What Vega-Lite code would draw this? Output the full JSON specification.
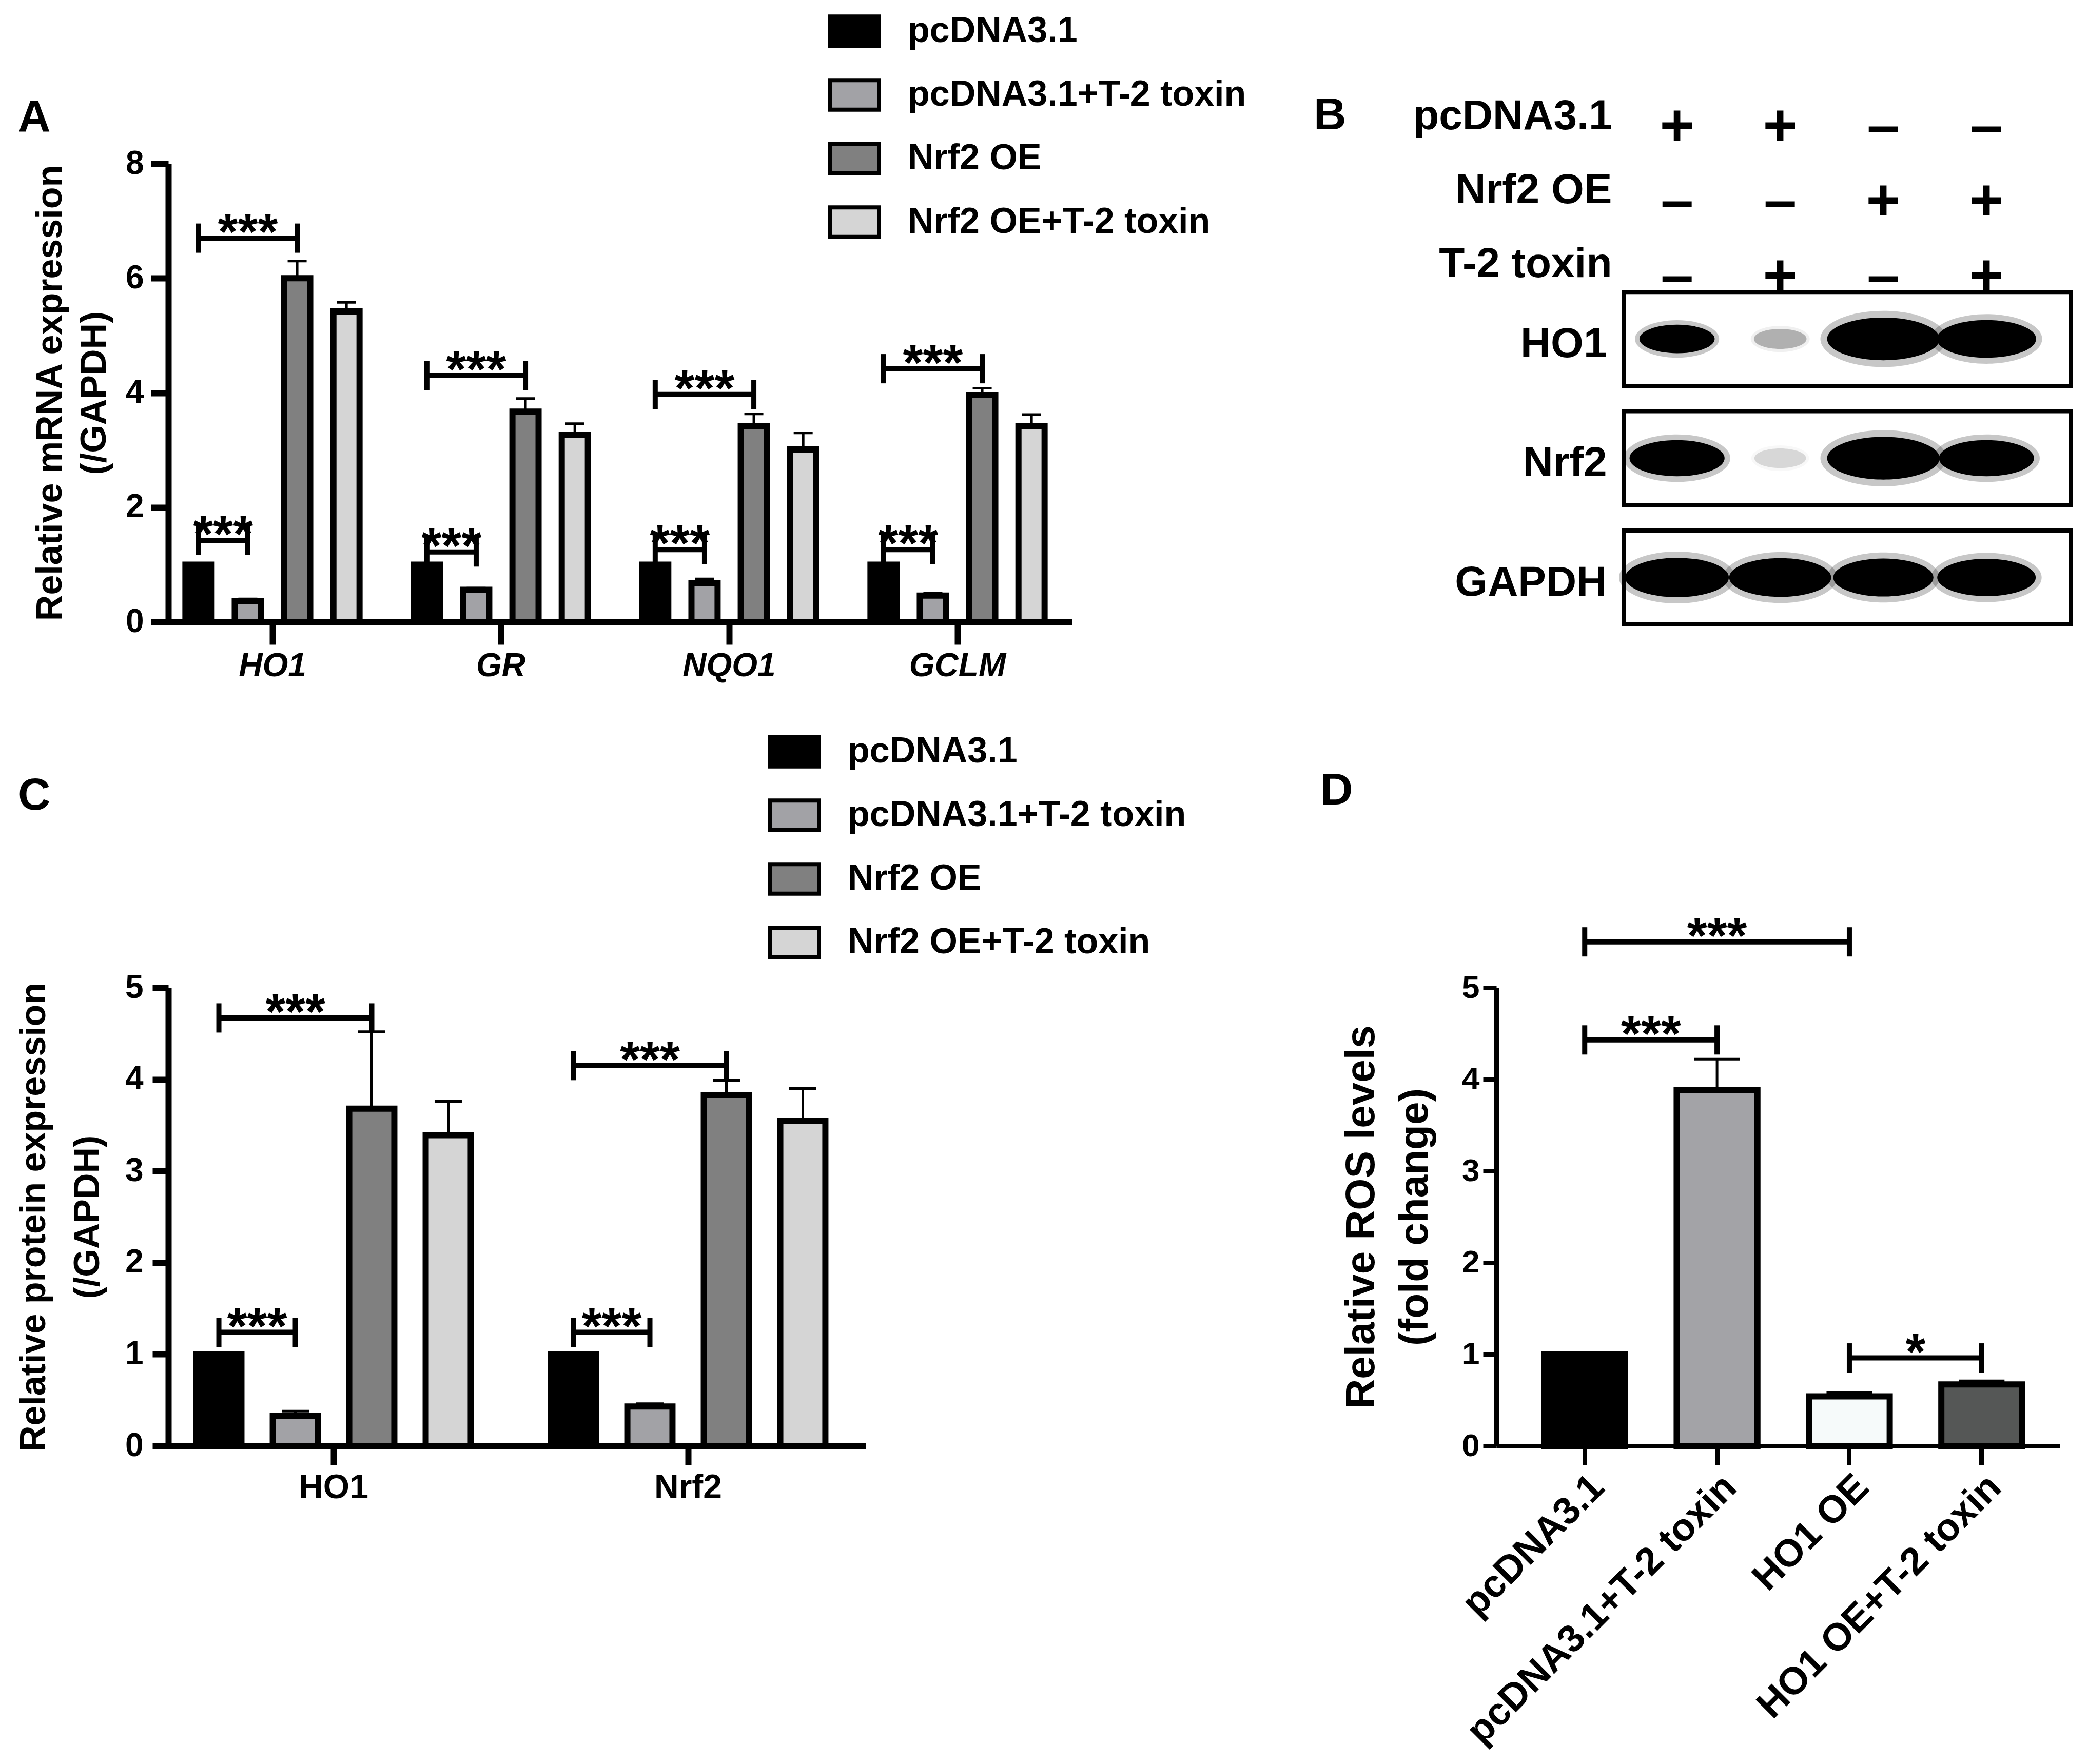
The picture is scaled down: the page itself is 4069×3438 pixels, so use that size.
{
 "$schema": "https://vega.github.io/schema/vega-lite/v6.json",
 "background": "white",
 "padding": {"left": 31, "top": 9, "right": 10, "bottom": 10},
 "columns": 2,
 "align": {"row": "each", "column": "none"},
 "bounds": "flush",
 "spacing": {"row": 708, "column": 1111},
 "resolve": {"scale": {"color": "independent", "xOffset": "independent", "size": "independent", "opacity": "independent", "fillOpacity": "independent"}},
 "datasets": {
  "mrna": [
   {"gene":"HO1","group":"pcDNA3.1","value":1.0},
   {"gene":"HO1","group":"pcDNA3.1+T-2 toxin","value":0.36,"hi":0.40},
   {"gene":"HO1","group":"Nrf2 OE","value":6.0,"hi":6.3},
   {"gene":"HO1","group":"Nrf2 OE+T-2 toxin","value":5.42,"hi":5.58},
   {"gene":"GR","group":"pcDNA3.1","value":1.0},
   {"gene":"GR","group":"pcDNA3.1+T-2 toxin","value":0.56,"hi":0.59},
   {"gene":"GR","group":"Nrf2 OE","value":3.67,"hi":3.9},
   {"gene":"GR","group":"Nrf2 OE+T-2 toxin","value":3.26,"hi":3.46},
   {"gene":"NQO1","group":"pcDNA3.1","value":1.0},
   {"gene":"NQO1","group":"pcDNA3.1+T-2 toxin","value":0.68,"hi":0.75},
   {"gene":"NQO1","group":"Nrf2 OE","value":3.42,"hi":3.63},
   {"gene":"NQO1","group":"Nrf2 OE+T-2 toxin","value":3.01,"hi":3.3},
   {"gene":"GCLM","group":"pcDNA3.1","value":1.0},
   {"gene":"GCLM","group":"pcDNA3.1+T-2 toxin","value":0.46,"hi":0.5},
   {"gene":"GCLM","group":"Nrf2 OE","value":3.96,"hi":4.08},
   {"gene":"GCLM","group":"Nrf2 OE+T-2 toxin","value":3.42,"hi":3.62}
  ],
  "mrnaBracket": [
   {"gene":"HO1","id":"HO1a","group":"pcDNA3.1","y":6.7},
   {"gene":"HO1","id":"HO1a","group":"Nrf2 OE","y":6.7},
   {"gene":"HO1","id":"HO1b","group":"pcDNA3.1","y":1.42},
   {"gene":"HO1","id":"HO1b","group":"pcDNA3.1+T-2 toxin","y":1.42},
   {"gene":"GR","id":"GRa","group":"pcDNA3.1","y":4.3},
   {"gene":"GR","id":"GRa","group":"Nrf2 OE","y":4.3},
   {"gene":"GR","id":"GRb","group":"pcDNA3.1","y":1.22},
   {"gene":"GR","id":"GRb","group":"pcDNA3.1+T-2 toxin","y":1.22},
   {"gene":"NQO1","id":"NQa","group":"pcDNA3.1","y":3.97},
   {"gene":"NQO1","id":"NQa","group":"Nrf2 OE","y":3.97},
   {"gene":"NQO1","id":"NQb","group":"pcDNA3.1","y":1.26},
   {"gene":"NQO1","id":"NQb","group":"pcDNA3.1+T-2 toxin","y":1.26},
   {"gene":"GCLM","id":"GCa","group":"pcDNA3.1","y":4.42},
   {"gene":"GCLM","id":"GCa","group":"Nrf2 OE","y":4.42},
   {"gene":"GCLM","id":"GCb","group":"pcDNA3.1","y":1.26},
   {"gene":"GCLM","id":"GCb","group":"pcDNA3.1+T-2 toxin","y":1.26}
  ],
  "mrnaStars": [
   {"gene":"HO1","group":"pcDNA3.1+T-2 toxin","y":6.7,"kind":"long","label":"***"},
   {"gene":"HO1","group":"pcDNA3.1","y":1.42,"kind":"short","label":"***"},
   {"gene":"GR","group":"pcDNA3.1+T-2 toxin","y":4.3,"kind":"long","label":"***"},
   {"gene":"GR","group":"pcDNA3.1","y":1.22,"kind":"short","label":"***"},
   {"gene":"NQO1","group":"pcDNA3.1+T-2 toxin","y":3.97,"kind":"long","label":"***"},
   {"gene":"NQO1","group":"pcDNA3.1","y":1.26,"kind":"short","label":"***"},
   {"gene":"GCLM","group":"pcDNA3.1+T-2 toxin","y":4.42,"kind":"long","label":"***"},
   {"gene":"GCLM","group":"pcDNA3.1","y":1.26,"kind":"short","label":"***"}
  ],
  "protein": [
   {"gene":"HO1","group":"pcDNA3.1","value":1.0},
   {"gene":"HO1","group":"pcDNA3.1+T-2 toxin","value":0.33,"hi":0.38},
   {"gene":"HO1","group":"Nrf2 OE","value":3.68,"hi":4.52},
   {"gene":"HO1","group":"Nrf2 OE+T-2 toxin","value":3.39,"hi":3.76},
   {"gene":"Nrf2","group":"pcDNA3.1","value":1.0},
   {"gene":"Nrf2","group":"pcDNA3.1+T-2 toxin","value":0.43,"hi":0.46},
   {"gene":"Nrf2","group":"Nrf2 OE","value":3.83,"hi":3.99},
   {"gene":"Nrf2","group":"Nrf2 OE+T-2 toxin","value":3.55,"hi":3.9}
  ],
  "proteinBracket": [
   {"gene":"HO1","id":"Ha","group":"pcDNA3.1","y":4.67},
   {"gene":"HO1","id":"Ha","group":"Nrf2 OE","y":4.67},
   {"gene":"HO1","id":"Hb","group":"pcDNA3.1","y":1.24},
   {"gene":"HO1","id":"Hb","group":"pcDNA3.1+T-2 toxin","y":1.24},
   {"gene":"Nrf2","id":"Na","group":"pcDNA3.1","y":4.15},
   {"gene":"Nrf2","id":"Na","group":"Nrf2 OE","y":4.15},
   {"gene":"Nrf2","id":"Nb","group":"pcDNA3.1","y":1.24},
   {"gene":"Nrf2","id":"Nb","group":"pcDNA3.1+T-2 toxin","y":1.24}
  ],
  "proteinStars": [
   {"gene":"HO1","group":"pcDNA3.1+T-2 toxin","y":4.67,"kind":"long","label":"***"},
   {"gene":"HO1","group":"pcDNA3.1","y":1.24,"kind":"short","label":"***"},
   {"gene":"Nrf2","group":"pcDNA3.1+T-2 toxin","y":4.15,"kind":"long","label":"***"},
   {"gene":"Nrf2","group":"pcDNA3.1","y":1.24,"kind":"short","label":"***"}
  ],
  "ros": [
   {"group":"pcDNA3.1","value":1.0},
   {"group":"pcDNA3.1+T-2 toxin","value":3.88,"hi":4.22},
   {"group":"HO1 OE","value":0.54,"hi":0.58},
   {"group":"HO1 OE+T-2 toxin","value":0.67,"hi":0.71}
  ],
  "rosBracket": [
   {"id":"a","group":"pcDNA3.1","y":5.5},
   {"id":"a","group":"HO1 OE","y":5.5},
   {"id":"b","group":"pcDNA3.1","y":4.43},
   {"id":"b","group":"pcDNA3.1+T-2 toxin","y":4.43},
   {"id":"c","group":"HO1 OE","y":0.96},
   {"id":"c","group":"HO1 OE+T-2 toxin","y":0.96}
  ],
  "rosStars": [
   {"group":"pcDNA3.1+T-2 toxin","y":5.5,"kind":"long","label":"***"},
   {"group":"pcDNA3.1","y":4.43,"kind":"short","label":"***"},
   {"group":"HO1 OE","y":0.96,"kind":"short","label":"*"}
  ],
  "blot": [
   {"lane":"+,–,–","protein":"HO1","density":0.55},
   {"lane":"+,–,+","protein":"HO1","density":0.12},
   {"lane":"–,+,–","protein":"HO1","density":1.0},
   {"lane":"–,+,+","protein":"HO1","density":0.85},
   {"lane":"+,–,–","protein":"Nrf2","density":0.8},
   {"lane":"+,–,+","protein":"Nrf2","density":0.06},
   {"lane":"–,+,–","protein":"Nrf2","density":1.0},
   {"lane":"–,+,+","protein":"Nrf2","density":0.8},
   {"lane":"+,–,–","protein":"GAPDH","density":0.9},
   {"lane":"+,–,+","protein":"GAPDH","density":0.88},
   {"lane":"–,+,–","protein":"GAPDH","density":0.86},
   {"lane":"–,+,+","protein":"GAPDH","density":0.84}
  ]
 },
 "concat": [
    {
     "width": 1726, "height": 893,
     "title": {"text": "A", "anchor": "start", "frame": "group", "dx": -293, "dy": 335, "offset": 0, "baseline": "alphabetic", "fontSize": 88},
     "layer": [
      {"data": {"name": "mrna"}, "mark": {"type": "bar", "stroke": "black", "strokeWidth": 12},
       "encoding": {
        "x": {"field":"gene","type":"nominal","sort":["HO1","GR","NQO1","GCLM"],"scale":{"range":[-19.5,1760.5],"paddingInner":0,"paddingOuter":0},"axis":{"title":null,"labelFontSize":64,"labelFontStyle":"italic","tickSize":44,"labelPadding":10,"labelAngle":0}},
        "xOffset": {"field":"group","type":"nominal","sort":["pcDNA3.1","pcDNA3.1+T-2 toxin","Nrf2 OE","Nrf2 OE+T-2 toxin"],"scale":{"paddingInner":0.47,"paddingOuter":0.55}},
        "y": {"field":"value","type":"quantitative","scale":{"domain":[0,8],"nice":false},"axis":{"title":["Relative mRNA expression","(/GAPDH)"],"titleFontSize":70,"titleLineHeight":86,"titlePadding":24,"values":[0,2,4,6,8],"format":"d","labelFontSize":64,"tickSize":34,"labelPadding":14}},
        "color": {"field":"group","type":"nominal","sort":["pcDNA3.1","pcDNA3.1+T-2 toxin","Nrf2 OE","Nrf2 OE+T-2 toxin"],"scale":{"domain":["pcDNA3.1","pcDNA3.1+T-2 toxin","Nrf2 OE","Nrf2 OE+T-2 toxin"],"range":["#000000","#a2a2a6","#808080","#d5d5d5"]},"legend":{"orient":"none","legendX":1285,"legendY":-310,"direction":"vertical","title":null}}
       }},
      {"data": {"name": "mrna"}, "transform": [{"filter": "isValid(datum.hi)"}], "mark": {"type": "rule", "color": "black", "strokeWidth": 5},
       "encoding": {
        "x": {"field":"gene","type":"nominal","sort":["HO1","GR","NQO1","GCLM"],"scale":{"range":[-19.5,1760.5],"paddingInner":0,"paddingOuter":0}},
        "xOffset": {"field":"group","type":"nominal","sort":["pcDNA3.1","pcDNA3.1+T-2 toxin","Nrf2 OE","Nrf2 OE+T-2 toxin"],"scale":{"paddingInner":0.47,"paddingOuter":0.55}},
        "y": {"field":"value","type":"quantitative","scale":{"domain":[0,8],"nice":false}},
        "y2": {"field":"hi"}
       }},
      {"data": {"name": "mrna"}, "transform": [{"filter": "isValid(datum.hi)"}], "mark": {"type": "point", "shape": "M-1,0L1,0", "size": 1369, "filled": false, "stroke": "black", "strokeWidth": 5, "opacity": 1},
       "encoding": {
        "x": {"field":"gene","type":"nominal","sort":["HO1","GR","NQO1","GCLM"],"scale":{"range":[-19.5,1760.5],"paddingInner":0,"paddingOuter":0}},
        "xOffset": {"field":"group","type":"nominal","sort":["pcDNA3.1","pcDNA3.1+T-2 toxin","Nrf2 OE","Nrf2 OE+T-2 toxin"],"scale":{"paddingInner":0.47,"paddingOuter":0.55}},
        "y": {"field":"hi","type":"quantitative","scale":{"domain":[0,8],"nice":false}}
       }},
      {"data": {"name": "mrnaBracket"}, "mark": {"type": "line", "color": "black", "strokeWidth": 10, "strokeCap": "butt"},
       "encoding": {
        "x": {"field":"gene","type":"nominal","sort":["HO1","GR","NQO1","GCLM"],"scale":{"range":[-19.5,1760.5],"paddingInner":0,"paddingOuter":0}},
        "xOffset": {"field":"group","type":"nominal","sort":["pcDNA3.1","pcDNA3.1+T-2 toxin","Nrf2 OE","Nrf2 OE+T-2 toxin"],"scale":{"paddingInner":0.47,"paddingOuter":0.55}},
        "y": {"field":"y","type":"quantitative","scale":{"domain":[0,8],"nice":false}},
        "detail": {"field":"id","type":"nominal"}
       }},
      {"data": {"name": "mrnaBracket"}, "mark": {"type": "point", "shape": "M0,-1L0,1", "size": 3249, "filled": false, "stroke": "black", "strokeWidth": 10, "opacity": 1},
       "encoding": {
        "x": {"field":"gene","type":"nominal","sort":["HO1","GR","NQO1","GCLM"],"scale":{"range":[-19.5,1760.5],"paddingInner":0,"paddingOuter":0}},
        "xOffset": {"field":"group","type":"nominal","sort":["pcDNA3.1","pcDNA3.1+T-2 toxin","Nrf2 OE","Nrf2 OE+T-2 toxin"],"scale":{"paddingInner":0.47,"paddingOuter":0.55}},
        "y": {"field":"y","type":"quantitative","scale":{"domain":[0,8],"nice":false}}
       }},
      {"data": {"name": "mrnaStars"}, "transform": [{"filter": "datum.kind == 'long'"}], "mark": {"type": "text", "fontSize": 100, "fontWeight": "bold", "baseline": "alphabetic", "dy": 22, "color": "black"},
       "encoding": {
        "x": {"field":"gene","type":"nominal","sort":["HO1","GR","NQO1","GCLM"],"scale":{"range":[-19.5,1760.5],"paddingInner":0,"paddingOuter":0}},
        "xOffset": {"field":"group","type":"nominal","sort":["pcDNA3.1","pcDNA3.1+T-2 toxin","Nrf2 OE","Nrf2 OE+T-2 toxin"],"scale":{"paddingInner":0.47,"paddingOuter":0.55}},
        "y": {"field":"y","type":"quantitative","scale":{"domain":[0,8],"nice":false}},
        "text": {"field":"label"}
       }},
      {"data": {"name": "mrnaStars"}, "transform": [{"filter": "datum.kind == 'short'"}], "mark": {"type": "text", "fontSize": 100, "fontWeight": "bold", "baseline": "alphabetic", "dy": 22, "dx": 48, "color": "black"},
       "encoding": {
        "x": {"field":"gene","type":"nominal","sort":["HO1","GR","NQO1","GCLM"],"scale":{"range":[-19.5,1760.5],"paddingInner":0,"paddingOuter":0}},
        "xOffset": {"field":"group","type":"nominal","sort":["pcDNA3.1","pcDNA3.1+T-2 toxin","Nrf2 OE","Nrf2 OE+T-2 toxin"],"scale":{"paddingInner":0.47,"paddingOuter":0.55}},
        "y": {"field":"y","type":"quantitative","scale":{"domain":[0,8],"nice":false}},
        "text": {"field":"label"}
       }}
     ]
    },
    {
     "width": 870, "height": 898,
     "title": {"text": "B", "anchor": "start", "frame": "group", "dx": -605, "dy": 155, "offset": 0, "baseline": "alphabetic", "fontSize": 88},
     "data": {"name": "blot"},
     "layer": [
      {"transform": [{"filter": "datum.lane == '+,–,–'"}], "mark": {"type": "rect", "fill": "white", "stroke": "black", "strokeWidth": 8},
       "encoding": {
        "y": {"field":"protein","type":"nominal","sort":["HO1","Nrf2","GAPDH"],"scale":{"type":"band","paddingInner":0.213,"paddingOuter":0.538,"align":1},"axis":{"title":null,"domain":false,"ticks":false,"labelFontSize":82,"labelPadding":34,"labelOffset":10}}
       }},
      {"mark": {"type": "point", "shape": "M-1.12,0A1.12,0.5,0,1,1,1.12,0A1.12,0.5,0,1,1,-1.12,0Z", "filled": true, "color": "black", "opacity": 1},
       "encoding": {
        "x": {"field":"lane","type":"nominal","sort":["+,–,–","+,–,+","–,+,–","–,+,+"],"scale":{"type":"band","paddingInner":0,"paddingOuter":0.164,"align":0.04},
              "axis":{"orient":"top","offset":-252,"domain":false,"ticks":false,"tickSize":0,"labelExpr":"split(datum.label, ',')","labelFontSize":115,"labelLineHeight":146,"labelBaseline":"bottom","labelPadding":265,"labelAngle":0,"labelOverlap":false,
                      "title":["pcDNA3.1","Nrf2 OE","T-2 toxin"],"titleFontSize":82,"titleLineHeight":144,"titleAlign":"right","titleBaseline":"bottom","titleAngle":0,"titleX":-24,"titleY":-303}},
        "y": {"field":"protein","type":"nominal","sort":["HO1","Nrf2","GAPDH"],"scale":{"type":"band","paddingInner":0.213,"paddingOuter":0.538,"align":1}},
        "size": {"field":"density","type":"quantitative","scale":{"type":"pow","exponent":2,"domain":[0,1],"range":[10000,48000]},"legend":null},
        "fillOpacity": {"field":"density","type":"quantitative","scale":{"domain":[0,0.45],"range":[0,0.22],"clamp":true},"legend":null}
       }},
      {"mark": {"type": "point", "shape": "M-1,0A1,0.38,0,1,1,1,0A1,0.38,0,1,1,-1,0Z", "filled": true, "color": "black"},
       "encoding": {
        "x": {"field":"lane","type":"nominal","sort":["+,–,–","+,–,+","–,+,–","–,+,+"],"scale":{"type":"band","paddingInner":0,"paddingOuter":0.164,"align":0.04}},
        "y": {"field":"protein","type":"nominal","sort":["HO1","Nrf2","GAPDH"],"scale":{"type":"band","paddingInner":0.213,"paddingOuter":0.538,"align":1}},
        "size": {"field":"density","type":"quantitative","scale":{"type":"pow","exponent":2,"domain":[0,1],"range":[10000,48000]},"legend":null},
        "opacity": {"field":"density","type":"quantitative","scale":{"domain":[0,0.45],"range":[0,1],"clamp":true},"legend":null}
       }}
     ]
    },
    {
     "width": 1337, "height": 893,
     "title": {"text": "C", "anchor": "start", "frame": "group", "dx": -293, "dy": 253, "offset": 0, "baseline": "alphabetic", "fontSize": 88},
     "layer": [
      {"data": {"name": "protein"}, "mark": {"type": "bar", "stroke": "black", "strokeWidth": 12},
       "encoding": {
        "x": {"field":"gene","type":"nominal","sort":["HO1","Nrf2"],"scale":{"range":[-23.5,1358.5],"paddingInner":0,"paddingOuter":0},"axis":{"title":null,"labelFontSize":66,"tickSize":37,"labelPadding":12,"labelAngle":0}},
        "xOffset": {"field":"group","type":"nominal","sort":["pcDNA3.1","pcDNA3.1+T-2 toxin","Nrf2 OE","Nrf2 OE+T-2 toxin"],"scale":{"paddingInner":0.41,"paddingOuter":0.524}},
        "y": {"field":"value","type":"quantitative","scale":{"domain":[0,5],"nice":false},"axis":{"title":["Relative protein expression","(/GAPDH)"],"titleFontSize":70,"titleLineHeight":105,"titlePadding":36,"values":[0,1,2,3,4,5],"format":"d","labelFontSize":64,"tickSize":31,"labelPadding":18}},
        "color": {"field":"group","type":"nominal","sort":["pcDNA3.1","pcDNA3.1+T-2 toxin","Nrf2 OE","Nrf2 OE+T-2 toxin"],"scale":{"domain":["pcDNA3.1","pcDNA3.1+T-2 toxin","Nrf2 OE","Nrf2 OE+T-2 toxin"],"range":["#000000","#a2a2a6","#808080","#d5d5d5"]},"legend":{"orient":"none","legendX":1168,"legendY":-512,"direction":"vertical","title":null}}
       }},
      {"data": {"name": "protein"}, "transform": [{"filter": "isValid(datum.hi)"}], "mark": {"type": "rule", "color": "black", "strokeWidth": 5},
       "encoding": {
        "x": {"field":"gene","type":"nominal","sort":["HO1","Nrf2"],"scale":{"range":[-23.5,1358.5],"paddingInner":0,"paddingOuter":0}},
        "xOffset": {"field":"group","type":"nominal","sort":["pcDNA3.1","pcDNA3.1+T-2 toxin","Nrf2 OE","Nrf2 OE+T-2 toxin"],"scale":{"paddingInner":0.41,"paddingOuter":0.524}},
        "y": {"field":"value","type":"quantitative","scale":{"domain":[0,5],"nice":false}},
        "y2": {"field":"hi"}
       }},
      {"data": {"name": "protein"}, "transform": [{"filter": "isValid(datum.hi)"}], "mark": {"type": "point", "shape": "M-1,0L1,0", "size": 2809, "filled": false, "stroke": "black", "strokeWidth": 5, "opacity": 1},
       "encoding": {
        "x": {"field":"gene","type":"nominal","sort":["HO1","Nrf2"],"scale":{"range":[-23.5,1358.5],"paddingInner":0,"paddingOuter":0}},
        "xOffset": {"field":"group","type":"nominal","sort":["pcDNA3.1","pcDNA3.1+T-2 toxin","Nrf2 OE","Nrf2 OE+T-2 toxin"],"scale":{"paddingInner":0.41,"paddingOuter":0.524}},
        "y": {"field":"hi","type":"quantitative","scale":{"domain":[0,5],"nice":false}}
       }},
      {"data": {"name": "proteinBracket"}, "mark": {"type": "line", "color": "black", "strokeWidth": 10, "strokeCap": "butt"},
       "encoding": {
        "x": {"field":"gene","type":"nominal","sort":["HO1","Nrf2"],"scale":{"range":[-23.5,1358.5],"paddingInner":0,"paddingOuter":0}},
        "xOffset": {"field":"group","type":"nominal","sort":["pcDNA3.1","pcDNA3.1+T-2 toxin","Nrf2 OE","Nrf2 OE+T-2 toxin"],"scale":{"paddingInner":0.41,"paddingOuter":0.524}},
        "y": {"field":"y","type":"quantitative","scale":{"domain":[0,5],"nice":false}},
        "detail": {"field":"id","type":"nominal"}
       }},
      {"data": {"name": "proteinBracket"}, "mark": {"type": "point", "shape": "M0,-1L0,1", "size": 3249, "filled": false, "stroke": "black", "strokeWidth": 10, "opacity": 1},
       "encoding": {
        "x": {"field":"gene","type":"nominal","sort":["HO1","Nrf2"],"scale":{"range":[-23.5,1358.5],"paddingInner":0,"paddingOuter":0}},
        "xOffset": {"field":"group","type":"nominal","sort":["pcDNA3.1","pcDNA3.1+T-2 toxin","Nrf2 OE","Nrf2 OE+T-2 toxin"],"scale":{"paddingInner":0.41,"paddingOuter":0.524}},
        "y": {"field":"y","type":"quantitative","scale":{"domain":[0,5],"nice":false}}
       }},
      {"data": {"name": "proteinStars"}, "transform": [{"filter": "datum.kind == 'long'"}], "mark": {"type": "text", "fontSize": 100, "fontWeight": "bold", "baseline": "alphabetic", "dy": 22, "color": "black"},
       "encoding": {
        "x": {"field":"gene","type":"nominal","sort":["HO1","Nrf2"],"scale":{"range":[-23.5,1358.5],"paddingInner":0,"paddingOuter":0}},
        "xOffset": {"field":"group","type":"nominal","sort":["pcDNA3.1","pcDNA3.1+T-2 toxin","Nrf2 OE","Nrf2 OE+T-2 toxin"],"scale":{"paddingInner":0.41,"paddingOuter":0.524}},
        "y": {"field":"y","type":"quantitative","scale":{"domain":[0,5],"nice":false}},
        "text": {"field":"label"}
       }},
      {"data": {"name": "proteinStars"}, "transform": [{"filter": "datum.kind == 'short'"}], "mark": {"type": "text", "fontSize": 100, "fontWeight": "bold", "baseline": "alphabetic", "dy": 22, "dx": 74.5, "color": "black"},
       "encoding": {
        "x": {"field":"gene","type":"nominal","sort":["HO1","Nrf2"],"scale":{"range":[-23.5,1358.5],"paddingInner":0,"paddingOuter":0}},
        "xOffset": {"field":"group","type":"nominal","sort":["pcDNA3.1","pcDNA3.1+T-2 toxin","Nrf2 OE","Nrf2 OE+T-2 toxin"],"scale":{"paddingInner":0.41,"paddingOuter":0.524}},
        "y": {"field":"y","type":"quantitative","scale":{"domain":[0,5],"nice":false}},
        "text": {"field":"label"}
       }}
     ]
    },
    {
     "width": 822, "height": 893,
     "title": {"text": "D", "anchor": "start", "frame": "group", "dx": -592, "dy": -122, "offset": 0, "baseline": "alphabetic", "fontSize": 88},
     "layer": [
      {"data": {"name": "ros"}, "mark": {"type": "bar", "stroke": "black", "strokeWidth": 12},
       "encoding": {
        "x": {"field":"group","type":"nominal","sort":["pcDNA3.1","pcDNA3.1+T-2 toxin","HO1 OE","HO1 OE+T-2 toxin"],"scale":{"range":[-249,849],"paddingInner":0.39,"paddingOuter":0.324,"align":0.56},"axis":{"title":null,"labelAngle":-45,"labelAlign":"right","labelBaseline":"top","labelFontSize":75,"tickSize":37,"labelPadding":6,"labelOverlap":false,"domainWidth":9,"tickWidth":9}},
        "y": {"field":"value","type":"quantitative","scale":{"domain":[0,5],"nice":false},"axis":{"offset":249,"title":["Relative ROS levels","(fold change)"],"titleFontSize":80,"titleLineHeight":104,"titlePadding":50,"values":[0,1,2,3,4,5],"format":"d","labelFontSize":62,"tickSize":26,"labelPadding":7,"domainWidth":9,"tickWidth":9}},
        "color": {"field":"group","type":"nominal","scale":{"domain":["pcDNA3.1","pcDNA3.1+T-2 toxin","HO1 OE","HO1 OE+T-2 toxin"],"range":["#000000","#a3a3a7","#f6fafa","#555756"]},"legend":null}
       }},
      {"data": {"name": "ros"}, "transform": [{"filter": "isValid(datum.hi)"}], "mark": {"type": "rule", "color": "black", "strokeWidth": 5},
       "encoding": {
        "x": {"field":"group","type":"nominal","sort":["pcDNA3.1","pcDNA3.1+T-2 toxin","HO1 OE","HO1 OE+T-2 toxin"],"scale":{"range":[-249,849],"paddingInner":0.39,"paddingOuter":0.324,"align":0.56}},
        "y": {"field":"value","type":"quantitative","scale":{"domain":[0,5],"nice":false}},
        "y2": {"field":"hi"}
       }},
      {"data": {"name": "ros"}, "transform": [{"filter": "isValid(datum.hi)"}], "mark": {"type": "point", "shape": "M-1,0L1,0", "size": 7921, "filled": false, "stroke": "black", "strokeWidth": 5, "opacity": 1},
       "encoding": {
        "x": {"field":"group","type":"nominal","sort":["pcDNA3.1","pcDNA3.1+T-2 toxin","HO1 OE","HO1 OE+T-2 toxin"],"scale":{"range":[-249,849],"paddingInner":0.39,"paddingOuter":0.324,"align":0.56}},
        "y": {"field":"hi","type":"quantitative","scale":{"domain":[0,5],"nice":false}}
       }},
      {"data": {"name": "rosBracket"}, "mark": {"type": "line", "color": "black", "strokeWidth": 10, "strokeCap": "butt"},
       "encoding": {
        "x": {"field":"group","type":"nominal","sort":["pcDNA3.1","pcDNA3.1+T-2 toxin","HO1 OE","HO1 OE+T-2 toxin"],"scale":{"range":[-249,849],"paddingInner":0.39,"paddingOuter":0.324,"align":0.56}},
        "y": {"field":"y","type":"quantitative","scale":{"domain":[0,5],"nice":false}},
        "detail": {"field":"id","type":"nominal"}
       }},
      {"data": {"name": "rosBracket"}, "mark": {"type": "point", "shape": "M0,-1L0,1", "size": 3249, "filled": false, "stroke": "black", "strokeWidth": 10, "opacity": 1},
       "encoding": {
        "x": {"field":"group","type":"nominal","sort":["pcDNA3.1","pcDNA3.1+T-2 toxin","HO1 OE","HO1 OE+T-2 toxin"],"scale":{"range":[-249,849],"paddingInner":0.39,"paddingOuter":0.324,"align":0.56}},
        "y": {"field":"y","type":"quantitative","scale":{"domain":[0,5],"nice":false}}
       }},
      {"data": {"name": "rosStars"}, "transform": [{"filter": "datum.kind == 'long'"}], "mark": {"type": "text", "fontSize": 100, "fontWeight": "bold", "baseline": "alphabetic", "dy": 22, "color": "black"},
       "encoding": {
        "x": {"field":"group","type":"nominal","sort":["pcDNA3.1","pcDNA3.1+T-2 toxin","HO1 OE","HO1 OE+T-2 toxin"],"scale":{"range":[-249,849],"paddingInner":0.39,"paddingOuter":0.324,"align":0.56}},
        "y": {"field":"y","type":"quantitative","scale":{"domain":[0,5],"nice":false}},
        "text": {"field":"label"}
       }},
      {"data": {"name": "rosStars"}, "transform": [{"filter": "datum.kind == 'short'"}], "mark": {"type": "text", "fontSize": 100, "fontWeight": "bold", "baseline": "alphabetic", "dy": 22, "dx": 129, "color": "black"},
       "encoding": {
        "x": {"field":"group","type":"nominal","sort":["pcDNA3.1","pcDNA3.1+T-2 toxin","HO1 OE","HO1 OE+T-2 toxin"],"scale":{"range":[-249,849],"paddingInner":0.39,"paddingOuter":0.324,"align":0.56}},
        "y": {"field":"y","type":"quantitative","scale":{"domain":[0,5],"nice":false}},
        "text": {"field":"label"}
       }}
     ]
    }
 ],
 "config": {
  "font": "Liberation Sans",
  "view": {"stroke": null},
  "axis": {"labelFont": "Liberation Sans", "labelFontWeight": "bold", "labelColor": "black", "titleFont": "Liberation Sans", "titleFontWeight": "bold", "titleColor": "black", "domainColor": "black", "domainWidth": 12, "tickColor": "black", "tickWidth": 12, "grid": false, "labelLimit": 0, "titleLimit": 0},
  "legend": {"labelFont": "Liberation Sans", "labelFontWeight": "bold", "labelFontSize": 70, "labelColor": "black", "labelLimit": 0, "symbolType": "M-1,-0.6H1V0.6H-1Z", "symbolSize": 9216, "symbolStrokeColor": "black", "symbolStrokeWidth": 8, "symbolOpacity": 1, "rowPadding": 27, "labelOffset": 52, "padding": 0},
  "title": {"font": "Liberation Sans", "fontWeight": "bold", "color": "black", "fontSize": 88},
  "text": {"font": "Liberation Sans"}
 }
}
